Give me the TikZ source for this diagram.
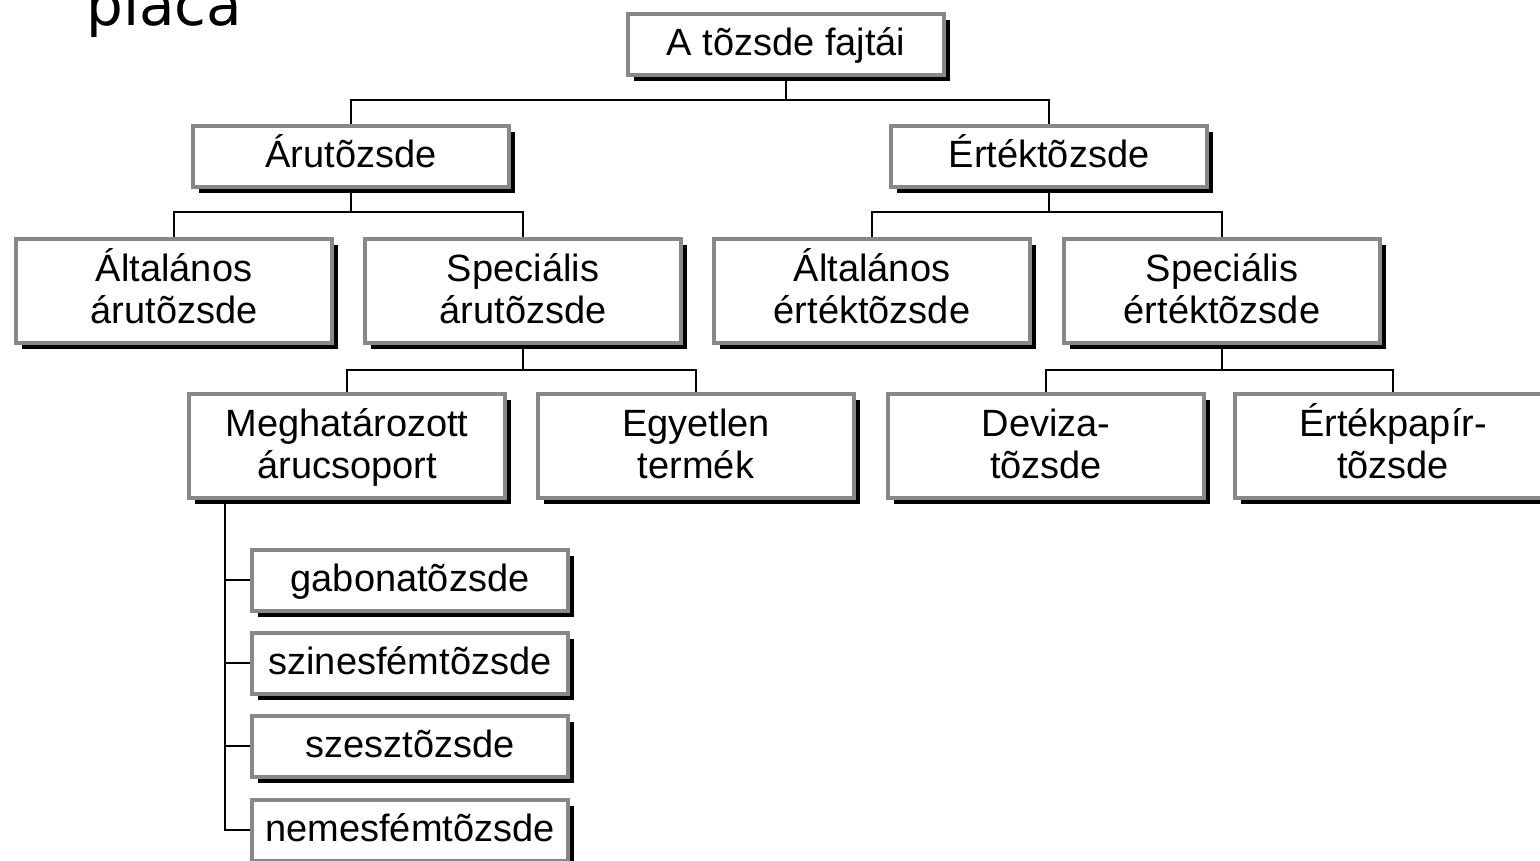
\documentclass[tikz,border=0pt]{standalone}
\usepackage{fontspec}
\setmainfont{Liberation Sans}
\newfontfamily\dejavu{DejaVu Sans}
\usetikzlibrary{shadows,backgrounds}
\definecolor{boxgray}{HTML}{888888}
\newcommand\bxs[1]{\rule[-0.25em]{0pt}{1.1em}\smash{#1}}
\begin{document}
\begin{tikzpicture}[x=1pt,y=-1pt,
  box/.style={draw=boxgray, line width=4pt, fill=white, minimum width=316pt,
    inner sep=0pt, align=center, font=\fontsize{38}{42}\selectfont,
    drop shadow={shadow xshift=6pt, shadow yshift=-6pt, fill=black, opacity=1}},
  one/.style={box, minimum height=61pt},
  two/.style={box, minimum height=104pt},
  conn/.style={line width=2pt, draw=black}]
\useasboundingbox (0,0) rectangle (1540,860);
\node[anchor=base west, inner sep=0pt, font=\dejavu\fontsize{58}{60}\selectfont] (title) at (86,25) {piaca};

\node[one] (top) at (786,44) {\bxs{A tõzsde fajtái}};
\node[one] (aru) at (351,156) {\bxs{Árutõzsde}};
\node[one] (ert) at (1049,156) {\bxs{Értéktõzsde}};

\node[two] (altaru) at (174,291) {\bxs{Általános}\\\bxs{árutõzsde}};
\node[two] (specaru) at (523,291) {\bxs{Speciális}\\\bxs{árutõzsde}};
\node[two] (altert) at (872,291) {\bxs{Általános}\\\bxs{értéktõzsde}};
\node[two] (specert) at (1222,291) {\bxs{Speciális}\\\bxs{értéktõzsde}};

\node[two] (meg) at (347,446) {\bxs{Meghatározott}\\\bxs{árucsoport}};
\node[two] (egy) at (696,446) {\bxs{Egyetlen}\\\bxs{termék}};
\node[two] (dev) at (1046,446) {\bxs{Deviza-}\\\bxs{tõzsde}};
\node[two] (ertp) at (1393,446) {\bxs{Értékpapír-}\\\bxs{tõzsde}};

\node[one] (s1) at (410,580) {\bxs{gabonatõzsde}};
\node[one] (s2) at (410,663) {\bxs{szinesfémtõzsde}};
\node[one] (s3) at (410,746) {\bxs{szesztõzsde}};
\node[one] (s4) at (410,830) {\bxs{nemesfémtõzsde}};

\coordinate (h1) at (0,100);
\coordinate (h2) at (0,212);
\coordinate (h3) at (0,370);
\coordinate (trk) at (225,0);

\begin{scope}[on background layer]
\draw[conn] (top.south) -- (top.south |- h1);
\draw[conn] (aru.north) -- (aru.north |- h1) -- (ert.north |- h1) -- (ert.north);
\draw[conn] (aru.south) -- (aru.south |- h2);
\draw[conn] (altaru.north) -- (altaru.north |- h2) -- (specaru.north |- h2) -- (specaru.north);
\draw[conn] (ert.south) -- (ert.south |- h2);
\draw[conn] (altert.north) -- (altert.north |- h2) -- (specert.north |- h2) -- (specert.north);
\draw[conn] (specaru.south) -- (specaru.south |- h3);
\draw[conn] (meg.north) -- (meg.north |- h3) -- (egy.north |- h3) -- (egy.north);
\draw[conn] (specert.south) -- (specert.south |- h3);
\draw[conn] (dev.north) -- (dev.north |- h3) -- (ertp.north |- h3) -- (ertp.north);
\draw[conn] (meg.south -| trk) -- (s4.west -| trk) -- (s4.west);
\draw[conn] (s1.west -| trk) -- (s1.west);
\draw[conn] (s2.west -| trk) -- (s2.west);
\draw[conn] (s3.west -| trk) -- (s3.west);
\end{scope}
\end{tikzpicture}
\end{document}
